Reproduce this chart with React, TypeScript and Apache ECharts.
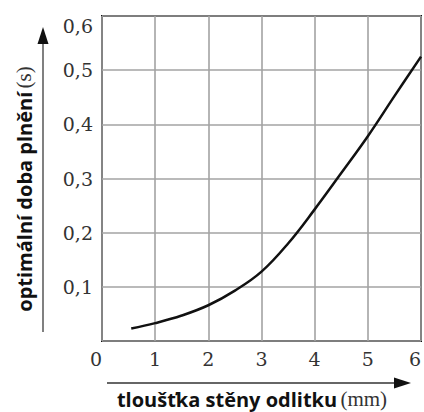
import React, { useEffect, useRef } from "react";
import * as echarts from "echarts";

const xValues = [0.55, 1, 1.5, 2, 2.5, 3, 3.5, 4, 4.5, 5, 5.5, 6];
const yValues = [0.023, 0.033, 0.047, 0.066, 0.093, 0.128, 0.18, 0.243, 0.31, 0.378, 0.452, 0.525];
const xTicks = [0, 1, 2, 3, 4, 5, 6];
const yTicks = [0.1, 0.2, 0.3, 0.4, 0.5, 0.6];
const xTitleMain = "tloušťka stěny odlitku";
const xTitleUnit = "(mm)";
const yTitleMain = "optimální doba plnění";
const yTitleUnit = "(s)";

const SERIF = "Liberation Serif";
const TICK_FONT = "DejaVu Serif";
const SANS = "Open Sans";

export default function App() {
  const ref = useRef<HTMLDivElement>(null);
  useEffect(() => {
    if (!ref.current) return;
    const chart = echarts.init(ref.current, null, { renderer: "svg" });
    const data = xValues.map((x, i) => [x, yValues[i]]);
    chart.setOption({
      animation: false,
      backgroundColor: "#fff",
      grid: {
        left: 102,
        right: 2,
        top: 16,
        bottom: 71,
        show: true,
        borderColor: "#111",
        borderWidth: 2,
      },
      xAxis: {
        type: "value",
        min: xTicks[0],
        max: xTicks[xTicks.length - 1],
        interval: 1,
        axisLine: { show: false },
        axisTick: { show: false },
        splitLine: { show: true, lineStyle: { color: "#a3a3a3", width: 1.6 } },
        axisLabel: {
          margin: 8,
          fontFamily: TICK_FONT,
          fontSize: 19,
          color: "#333",
          alignMinLabel: "right",
          alignMaxLabel: "right",
        },
      },
      yAxis: {
        type: "value",
        min: 0,
        max: yTicks[yTicks.length - 1],
        interval: 0.1,
        axisLine: { show: false },
        axisTick: { show: false },
        splitLine: { show: true, lineStyle: { color: "#a3a3a3", width: 1.6 } },
        axisLabel: {
          margin: 9,
          fontFamily: TICK_FONT,
          fontSize: 19,
          color: "#333",
          verticalAlignMaxLabel: "top",
          formatter: (v: number) => (v === 0 ? "" : v.toFixed(1).replace(".", ",")),
        },
      },
      series: [
        {
          type: "line",
          data,
          smooth: 0.4,
          showSymbol: false,
          symbol: "none",
          lineStyle: { color: "#111", width: 2.5 },
        },
      ],
      graphic: [
        {
          type: "line",
          shape: { x1: 43, y1: 40, x2: 43, y2: 332 },
          style: { stroke: "#808080", lineWidth: 2 },
        },
        {
          type: "polygon",
          shape: { points: [[43, 27], [37.5, 44], [48.5, 44]] },
          style: { fill: "#111" },
        },
        {
          type: "line",
          shape: { x1: 107, y1: 383, x2: 398, y2: 383 },
          style: { stroke: "#666", lineWidth: 2 },
        },
        {
          type: "polygon",
          shape: { points: [[411, 383], [394, 377.5], [394, 388.5]] },
          style: { fill: "#111" },
        },
        {
          type: "text",
          x: 252,
          y: 399,
          style: {
            text: "{a|" + xTitleMain + "} {b|" + xTitleUnit + "}",
            align: "center",
            verticalAlign: "middle",
            rich: {
              a: { fontFamily: SANS, fontWeight: "bold", fontSize: 20, fill: "#111" },
              b: { fontFamily: SERIF, fontSize: 21, fill: "#333" },
            },
          },
        },
        {
          type: "text",
          x: 24,
          y: 189,
          rotation: Math.PI / 2,
          style: {
            text: "{a|" + yTitleMain + "} {b|" + yTitleUnit + "}",
            align: "center",
            verticalAlign: "middle",
            rich: {
              a: { fontFamily: SANS, fontWeight: "bold", fontSize: 20, fill: "#111" },
              b: { fontFamily: SERIF, fontSize: 21, fill: "#333" },
            },
          },
        },
      ],
    });
    return () => chart.dispose();
  }, []);
  return (
    <div
      ref={ref}
      style={{ position: "absolute", left: 0, top: 0, width: 424, height: 412, background: "#fff" }}
    />
  );
}
